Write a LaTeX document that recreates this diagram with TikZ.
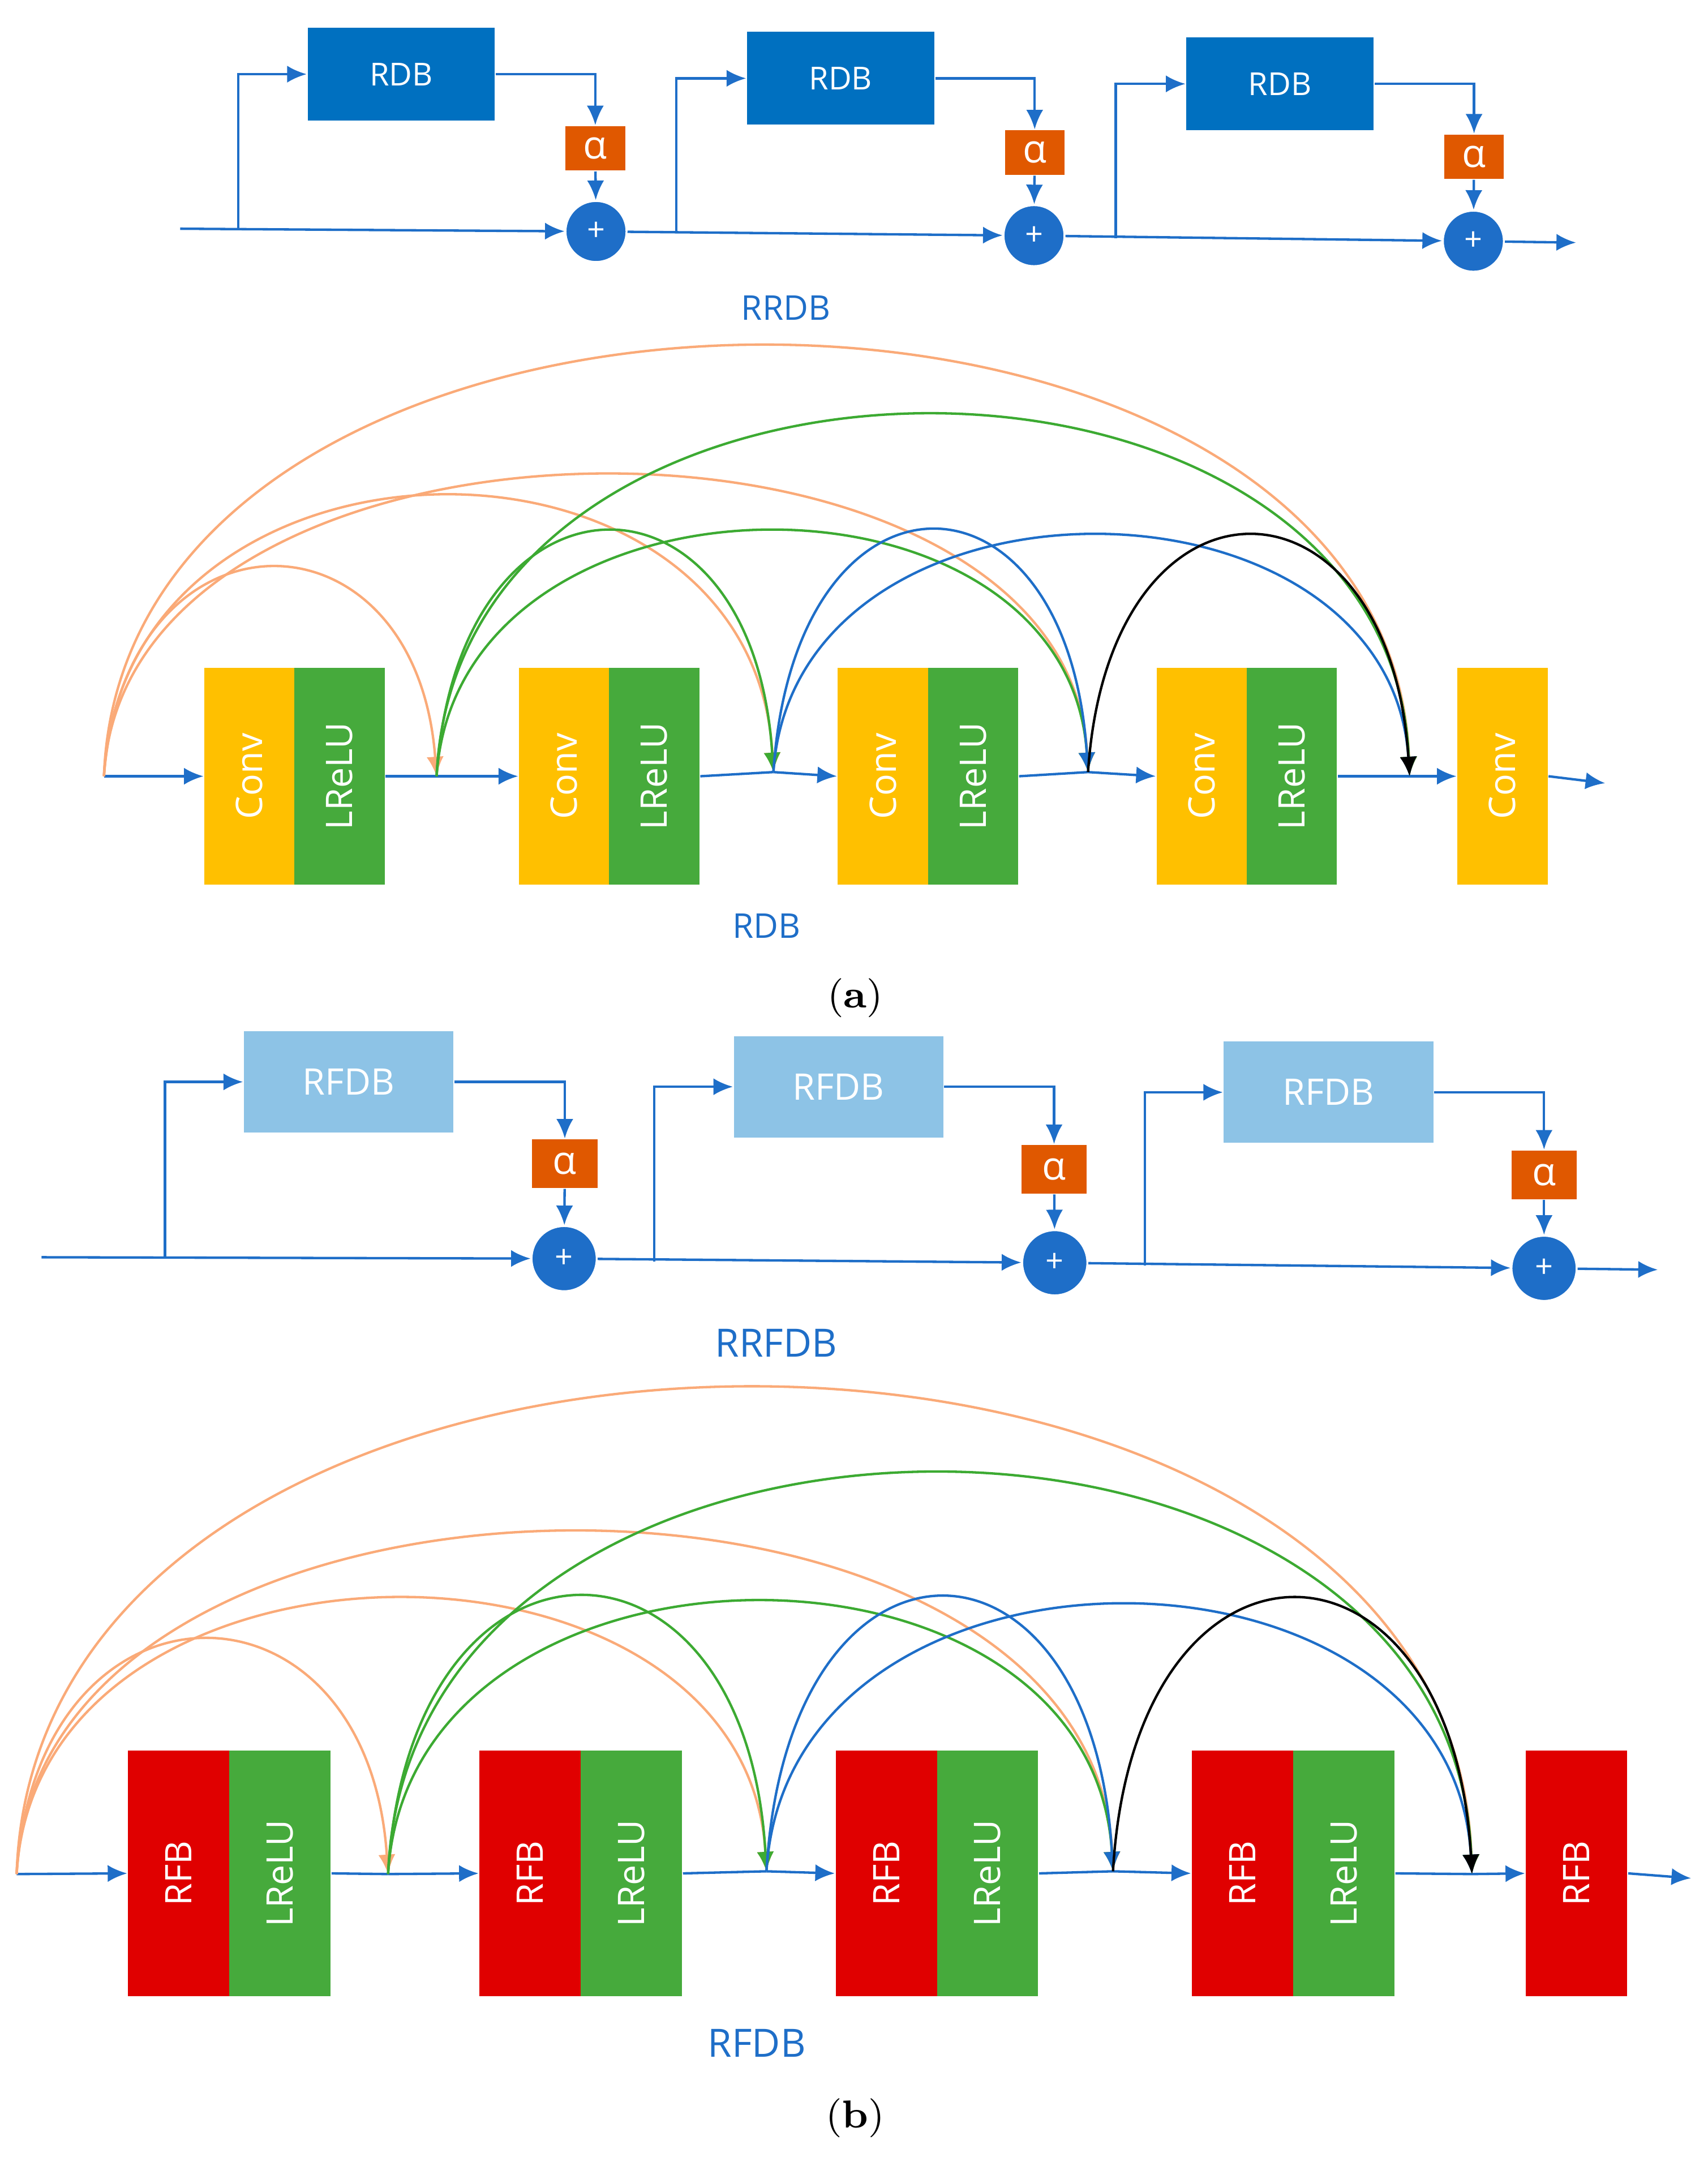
\documentclass[tikz,border=0pt]{standalone}
\usepackage{fontspec}
\newfontfamily\labelfont{Open Sans}
\usetikzlibrary{arrows.meta,calc}
\definecolor{rdbblue}{RGB}{0,112,192}
\definecolor{lineblue}{RGB}{30,110,200}
\definecolor{alphaorange}{RGB}{224,88,0}
\definecolor{convyellow}{RGB}{255,192,0}
\definecolor{lrelugreen}{RGB}{70,170,60}
\definecolor{rfbred}{RGB}{224,0,0}
\definecolor{rfdbblue}{RGB}{141,195,230}
\definecolor{arcorange}{RGB}{250,170,120}
\definecolor{arcgreen}{RGB}{60,170,50}
\tikzset{
  every node/.style={font=\labelfont\fontsize{6.5}{7}\selectfont},
  flow/.style={draw=lineblue,line width=0.5pt},
  tip/.style={flow,-{Latex[length=4pt,width=3.5pt]}},
  arc/.style={line width=0.5pt,-{Latex[length=4pt,width=3.5pt]}},
  blockbox/.style={fill=#1,text=white,minimum width=1.35cm,minimum height=0.67cm,inner sep=0pt},
  alpha/.style={fill=alphaorange,text=white,minimum width=0.43cm,minimum height=0.32cm,inner sep=0pt,font=\labelfont\fontsize{8}{8}\selectfont},
  adder/.style={circle,fill=lineblue,draw=white,text=white,minimum size=0.44cm,inner sep=0pt},
  layer/.style={fill=#1,text=white,rotate=90,minimum width=1.56cm,minimum height=0.65cm,inner sep=0pt,font=\labelfont\fontsize{7.5}{8}\selectfont},
  caption/.style={text=lineblue,font=\labelfont\fontsize{7}{8}\selectfont}
}
\begin{document}
\begin{tikzpicture}[x=0.01cm,y=-0.01cm]
\useasboundingbox (0,0) rectangle (1232,1572);

% RRDB
\node[blockbox=rdbblue] (b1) at (289.5,53.5) {RDB};
\node[blockbox=rdbblue] (b2) at (606.5,56.5) {RDB};
\node[blockbox=rdbblue] (b3) at (923.5,60.5) {RDB};
\node[alpha] (al1) at (429.5,107) {α};
\node[alpha] (al2) at (746.5,110) {α};
\node[alpha] (al3) at (1063.5,113) {α};
\node[adder] (s1) at (430,167) {+};
\node[adder] (s2) at (746,170) {+};
\node[adder] (s3) at (1063,174) {+};
\coordinate (in) at (130,165);
\coordinate (j1) at (172,165);
\coordinate (j2) at (488,168);
\coordinate (j3) at (805,172);
\coordinate (out) at (1137,175);
\draw[tip] (in) -- (s1);
\draw[tip] (j1) |- (b1);
\draw[tip] (b1.east) -| (al1);
\draw[tip] (al1) -- (s1);
\draw[tip] (s1) -- (s2);
\draw[tip] (j2) |- (b2);
\draw[tip] (b2.east) -| (al2);
\draw[tip] (al2) -- (s2);
\draw[tip] (s2) -- (s3);
\draw[tip] (j3) |- (b3);
\draw[tip] (b3.east) -| (al3);
\draw[tip] (al3) -- (s3);
\draw[tip] (s3) -- (out);
\node[caption] (t1) at (567,222) {RRDB};

% RDB
\foreach \i/\x in {1/180,2/407,3/637,4/867}{
  \node[layer=convyellow] (c\i) at (\x,560) {Conv};
  \node[layer=lrelugreen] (r\i) at (\x+65,560) {LReLU};
}
\node[layer=convyellow] (c5) at (1084,560) {Conv};
\coordinate (a0) at (75,560);
\coordinate (a1) at (315,560);
\coordinate (a2) at (558,557);
\coordinate (a3) at (785,557);
\coordinate (a4) at (1017,560);
\coordinate (aout) at (1158,565);
\draw[tip] (a0) -- (c1.north);
\draw[flow] (r1.south) -- (a1); \draw[tip] (a1) -- (c2.north);
\draw[flow] (r2.south) -- (a2); \draw[tip] (a2) -- (c3.north);
\draw[flow] (r3.south) -- (a3); \draw[tip] (a3) -- (c4.north);
\draw[flow] (r4.south) -- (a4); \draw[tip] (a4) -- (c5.north);
\draw[tip] (c5.south) -- (aout);
\foreach \s/\t/\h/\c in {0/1/200/arcorange,0/2/267/arcorange,0/3/287/arcorange,0/4/413/arcorange,
  1/2/233/arcgreen,1/3/233/arcgreen,1/4/347/arcgreen,2/3/232/lineblue,2/4/229/lineblue,3/4/229/black}
  \draw[arc,\c] (a\s) .. controls ($(a\s)+(15,-\h)$) and ($(a\t)+(-15,-\h)$) .. (a\t);
\node[caption] (t2) at (553,668) {RDB};
\node[font=\fontsize{8}{9}\selectfont] (capa) at (617,720) {(\textbf{a})};

% RRFDB
\node[blockbox=rfdbblue,minimum width=1.51cm,minimum height=0.73cm,font=\labelfont\fontsize{7.5}{8}\selectfont] (f1) at (251.5,780.5) {RFDB};
\node[blockbox=rfdbblue,minimum width=1.51cm,minimum height=0.73cm,font=\labelfont\fontsize{7.5}{8}\selectfont] (f2) at (605,784) {RFDB};
\node[blockbox=rfdbblue,minimum width=1.51cm,minimum height=0.73cm,font=\labelfont\fontsize{7.5}{8}\selectfont] (f3) at (958.5,788) {RFDB};
\node[alpha,minimum width=0.47cm,minimum height=0.35cm] (be1) at (407.5,839.5) {α};
\node[alpha,minimum width=0.47cm,minimum height=0.35cm] (be2) at (760.5,843.5) {α};
\node[alpha,minimum width=0.47cm,minimum height=0.35cm] (be3) at (1114,847.5) {α};
\node[adder,minimum size=0.47cm] (u1) at (407,908) {+};
\node[adder,minimum size=0.47cm] (u2) at (761,911) {+};
\node[adder,minimum size=0.47cm] (u3) at (1114,915) {+};
\coordinate (fin) at (30,907);
\coordinate (k1) at (119,907);
\coordinate (k2) at (472,910);
\coordinate (k3) at (826,913);
\coordinate (fout) at (1196,916);
\draw[tip] (fin) -- (u1);
\draw[tip] (k1) |- (f1);
\draw[tip] (f1.east) -| (be1);
\draw[tip] (be1) -- (u1);
\draw[tip] (u1) -- (u2);
\draw[tip] (k2) |- (f2);
\draw[tip] (f2.east) -| (be2);
\draw[tip] (be2) -- (u2);
\draw[tip] (u2) -- (u3);
\draw[tip] (k3) |- (f3);
\draw[tip] (f3.east) -| (be3);
\draw[tip] (be3) -- (u3);
\draw[tip] (u3) -- (fout);
\node[caption,font=\labelfont\fontsize{8}{9}\selectfont] (t3) at (560,969) {RRFDB};

% RFDB
\foreach \i/\x in {1/129,2/382.5,3/639.5,4/896.5}{
  \node[layer=rfbred,minimum width=1.77cm,minimum height=0.73cm] (e\i) at (\x,1351.5) {RFB};
  \node[layer=lrelugreen,minimum width=1.77cm,minimum height=0.73cm] (l\i) at (\x+73,1351.5) {LReLU};
}
\node[layer=rfbred,minimum width=1.77cm,minimum height=0.73cm] (e5) at (1137.5,1351.5) {RFB};
\coordinate (q0) at (12,1352);
\coordinate (q1) at (280,1352);
\coordinate (q2) at (553,1350);
\coordinate (q3) at (803,1350);
\coordinate (q4) at (1062,1352);
\coordinate (qout) at (1220,1355);
\draw[tip] (q0) -- (e1.north);
\draw[flow] (l1.south) -- (q1); \draw[tip] (q1) -- (e2.north);
\draw[flow] (l2.south) -- (q2); \draw[tip] (q2) -- (e3.north);
\draw[flow] (l3.south) -- (q3); \draw[tip] (q3) -- (e4.north);
\draw[flow] (l4.south) -- (q4); \draw[tip] (q4) -- (e5.north);
\draw[tip] (e5.south) -- (qout);
\foreach \s/\t/\h/\c in {0/1/225/arcorange,0/2/263/arcorange,0/3/327/arcorange,0/4/467/arcorange,
  1/2/265/arcgreen,1/3/260/arcgreen,1/4/385/arcgreen,2/3/263/lineblue,2/4/257/lineblue,3/4/263/black}
  \draw[arc,\c] (q\s) .. controls ($(q\s)+(15,-\h)$) and ($(q\t)+(-15,-\h)$) .. (q\t);
\node[caption,font=\labelfont\fontsize{8}{9}\selectfont] (t4) at (546,1474) {RFDB};
\node[font=\fontsize{8}{9}\selectfont] (capb) at (617,1528) {(\textbf{b})};
\end{tikzpicture}
\end{document}
